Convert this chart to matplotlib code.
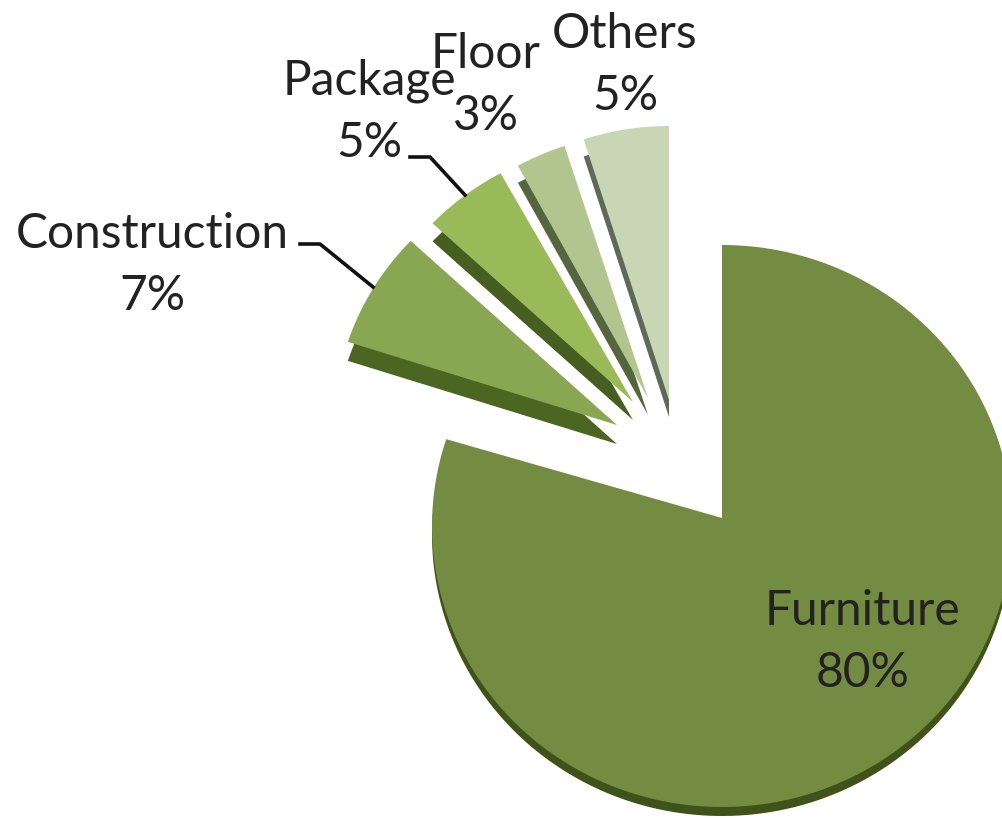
import numpy as np
import matplotlib
matplotlib.use("Agg")
import matplotlib.pyplot as plt

# data
names = ["Furniture", "Construction", "Package", "Floor", "Others"]
values = [80, 7, 5, 3, 5]

# slice styles and layout (pixels of the picture, y goes down)
top_colors = ["#748B42", "#89A652", "#9ABA59", "#B2C58F", "#C9D6B6"]
side_colors = ["#3F5219", "#4C6521", "#465E1F", "#55663F", "#5E6A55"]
tips = [(722, 518), (617, 425), (633, 402), (648, 398), (669, 400)]
arc_centers = [(722, 526), (617, 425), (633, 402), (648, 398), (669, 400)]
radii_x = [290, 283, 275, 270, 276]
radii_y = [281, 269, 261, 265, 274]
depths = [9, 19, 18, 17, 17]
label_pos = [(863, 642), (152, 265), (369, 112), (486, 85), (625, 65)]


def slice_outline(i, start, sweep):
    # clockwise from start, angles measured from 12 o'clock
    a = np.radians(np.linspace(start, start + sweep, 200))
    px = arc_centers[i][0] + radii_x[i] * np.sin(a)
    py = arc_centers[i][1] - radii_y[i] * np.cos(a)
    return np.r_[tips[i][0], px], np.r_[tips[i][1], py]


fig = plt.figure(figsize=(10.02, 8.18), dpi=100)
ax = fig.add_axes([0, 0, 1, 1])
ax.set_xlim(0, 1002)
ax.set_ylim(818, 0)
ax.axis("off")

start = 0
for i in range(len(values)):
    sweep = values[i] / sum(values) * 360
    px, py = slice_outline(i, start, sweep)
    ax.fill(px, py + depths[i], color=side_colors[i], lw=0, zorder=2)
    ax.fill(px, py, color=top_colors[i], lw=0, zorder=3)
    start += sweep

# leader lines
ax.plot([300, 320, 373], [244, 244, 287], color="#111111", lw=2.6, zorder=4)
ax.plot([410, 430, 465], [157, 157, 195], color="#111111", lw=2.6, zorder=4)

for i in range(len(names)):
    ax.text(label_pos[i][0], label_pos[i][1], f"{names[i]}\n{values[i]}%",
            ha="center", va="center", family="Lato", fontsize=34.5,
            color="#222222", linespacing=1.5, zorder=5)

fig.savefig("out.png", dpi=100)
